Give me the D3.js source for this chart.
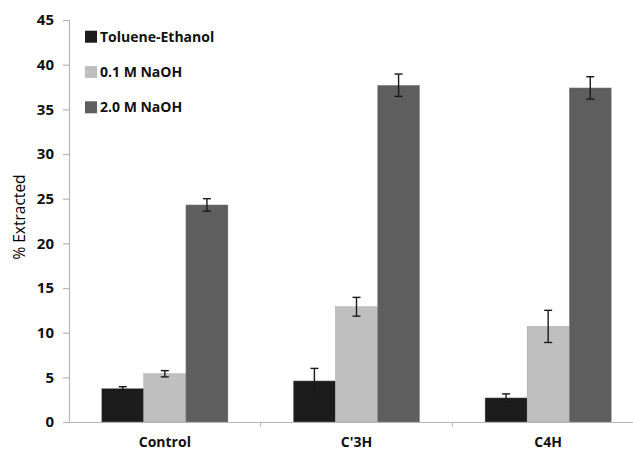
<!DOCTYPE html>
<html>
<head>
<meta charset="utf-8">
<script src="https://cdn.jsdelivr.net/npm/d3@7"></script>
<style>
  body { margin: 0; background: #fff; }
  text { font-family: "Open Sans", Lato, sans-serif; }
</style>
</head>
<body>
<div id="chart"></div>
<script>
const categories = ['Control', "C'3H", 'C4H']
const series = ['Toluene-Ethanol', '0.1 M NaOH', '2.0 M NaOH']
const toluene = [3.75, 4.6, 2.7]
const naoh01 = [5.4, 12.9, 10.7]
const naoh20 = [24.3, 37.7, 37.4]
const tolueneErr = [0.2, 1.4, 0.45]
const naoh01Err = [0.35, 1.05, 1.8]
const naoh20Err = [0.7, 1.25, 1.25]
const yTicks = [0, 5, 10, 15, 20, 25, 30, 35, 40, 45]

const colors = ['#1c1c1c', '#bfbfbf', '#5e5e5e']
const values = [toluene, naoh01, naoh20]
const errs = [tolueneErr, naoh01Err, naoh20Err]

const width = 633, height = 454
const margin = {top: 20, left: 69, bottom: 32, right: -11}

const datas = []
categories.forEach((c, i) => {
  series.forEach((s, j) => {
    datas.push({cat: c, ser: s, val: values[j][i], err: errs[j][i], color: colors[j]})
  })
})

const svg = d3.select('#chart').append('svg')
  .attr('width', width)
  .attr('height', height)

const x = d3.scaleBand()
  .domain(categories)
  .range([margin.left, width - margin.right])

const xs = d3.scaleBand()
  .domain(series)
  .range([32.7, x.bandwidth() - 32.7])

const y = d3.scaleLinear()
  .domain([0, 45])
  .range([height - margin.bottom, margin.top])

// bars
svg.append('g')
  .selectAll('rect')
  .data(datas)
  .join('rect')
    .attr('x', d => x(d.cat) + xs(d.ser))
    .attr('y', d => y(d.val))
    .attr('width', xs.bandwidth())
    .attr('height', d => y(0) - y(d.val))
    .attr('fill', d => d.color)
    .attr('stroke', '#9a9a9a')
    .attr('stroke-width', 0.4)

// error bars
const eb = svg.append('g')
  .attr('stroke', '#1a1a1a')
  .attr('stroke-width', 1.4)
  .selectAll('g')
  .data(datas)
  .join('g')
eb.append('line')
  .attr('x1', d => x(d.cat) + xs(d.ser) + xs.bandwidth() / 2)
  .attr('x2', d => x(d.cat) + xs(d.ser) + xs.bandwidth() / 2)
  .attr('y1', d => y(d.val - d.err))
  .attr('y2', d => y(d.val + d.err))
eb.selectAll('.cap')
  .data(d => [d.val - d.err, d.val + d.err].map(v => ({v, d})))
  .join('line')
  .attr('class', 'cap')
  .attr('x1', e => x(e.d.cat) + xs(e.d.ser) + xs.bandwidth() / 2 - 4)
  .attr('x2', e => x(e.d.cat) + xs(e.d.ser) + xs.bandwidth() / 2 + 4)
  .attr('y1', e => y(e.v))
  .attr('y2', e => y(e.v))

// y axis
function yAxis(g) {
  g.attr('transform', `translate(${margin.left},0)`)
    .call(d3.axisLeft(y).tickValues(yTicks).tickSize(6).tickPadding(9))
  g.selectAll('path, line').attr('stroke', '#b5b5b5').attr('stroke-width', 1.2)
  g.selectAll('text')
    .attr('font-size', '15px')
    .attr('font-weight', 'bold')
    .attr('fill', '#111')
    .attr('font-family', '"Open Sans", sans-serif')
}

// x axis
function xAxis(g) {
  g.attr('transform', `translate(0,${y(0)})`)
    .call(d3.axisBottom(x).tickSize(0).tickPadding(15))
  g.select('.domain').attr('stroke', '#b5b5b5').attr('stroke-width', 1.2)
  g.selectAll('text')
    .attr('font-size', '14px')
    .attr('font-weight', 'bold')
    .attr('fill', '#111')
    .attr('font-family', '"Open Sans", sans-serif')
  g.selectAll('.sep')
    .data(categories.slice(1))
    .join('line')
    .attr('class', 'sep')
    .attr('x1', d => x(d)).attr('x2', d => x(d))
    .attr('y1', 0).attr('y2', 5)
    .attr('stroke', '#b5b5b5')
}

svg.append('g').call(yAxis)
svg.append('g').call(xAxis)

// y title
svg.append('text')
  .attr('transform', `translate(25,${(y(0) + y(45)) / 2 - 4}) rotate(-90)`)
  .attr('text-anchor', 'middle')
  .attr('font-size', '15.5px')
  .attr('fill', '#000')
  .text('% Extracted')

// legend
const leg = svg.append('g')
  .selectAll('g')
  .data(series)
  .join('g')
  .attr('transform', (d, i) => `translate(85,${36.7 + i * 35.3})`)
leg.append('rect')
  .attr('x', 0).attr('y', -6)
  .attr('width', 12).attr('height', 12)
  .attr('fill', (d, i) => colors[i])
leg.append('text')
  .attr('x', 15)
  .attr('dy', '0.35em')
  .attr('font-size', '14px')
  .attr('font-weight', 'bold')
  .attr('fill', '#111')
  .text(d => d)
</script>
</body>
</html>
